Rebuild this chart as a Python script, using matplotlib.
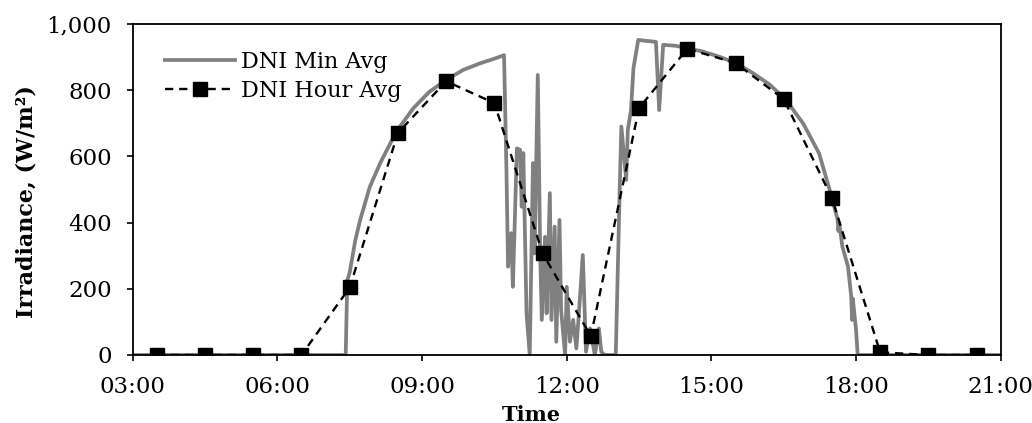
import matplotlib
matplotlib.use("Agg")
import matplotlib.pyplot as plt
from matplotlib.ticker import FuncFormatter

plt.rcParams['font.family'] = ['DejaVu Serif']

# minute averages (clock time, W/m2)
min_times = ["03:00", "07:25", "07:27", "07:30", "07:37", "07:43", "07:55", "08:08",
             "08:28", "08:49", "09:09", "09:30", "09:51", "10:12", "10:31", "10:39",
             "10:42", "10:45", "10:47", "10:51", "10:53", "10:58", "11:02", "11:04",
             "11:06", "11:10", "11:14", "11:18", "11:20", "11:24", "11:27", "11:29",
             "11:33", "11:35", "11:39", "11:41", "11:45", "11:47", "11:51", "11:53",
             "11:58", "12:00", "12:04", "12:08", "12:12", "12:16", "12:20", "12:24",
             "12:29", "12:35", "12:40", "12:43", "12:47", "13:01", "13:06", "13:08",
             "13:14", "13:16", "13:20", "13:23", "13:29", "13:35", "13:51", "13:55",
             "14:00", "14:16", "14:29", "14:49", "15:10", "15:31", "15:52", "16:13",
             "16:33", "16:54", "17:04", "17:14", "17:27", "17:37", "17:38", "17:39",
             "17:43", "17:50", "17:54", "17:55", "17:56", "18:00", "18:02", "21:00"]
min_vals = [0, 0, 225, 250, 347, 408, 508, 580,
            675, 745, 795, 831, 861, 881, 896, 903,
            906, 559, 267, 368, 206, 624, 620, 448,
            610, 126, 0, 580, 307, 846, 307, 106,
            357, 126, 489, 106, 388, 40, 408, 136,
            0, 206, 40, 106, 20, 156, 302, 10,
            80, 0, 80, 10, 0, 0, 508, 690,
            529, 680, 740, 866, 952, 950, 946, 740,
            937, 934, 927, 917, 901, 881, 851, 816,
            770, 700, 655, 609, 500, 410, 375, 400,
            327, 267, 176, 106, 170, 75, 0, 0]

# hourly averages, plotted at the half hour
hour_times = ["03:30", "04:30", "05:30", "06:30", "07:30", "08:30", "09:30", "10:30", "11:30",
              "12:30", "13:30", "14:30", "15:30", "16:30", "17:30", "18:30", "19:30", "20:30"]
hour_vals = [0, 0, 0, 0, 204, 671, 827, 761, 307, 57, 746, 925, 882, 773, 474, 8, 0, 0]


def to_hours(t):
    h, m = t.split(":")
    return int(h) + int(m) / 60.0


fig = plt.figure(figsize=(10.32, 4.23), dpi=100)
ax = fig.add_axes([0.1286, 0.1608, 0.8411, 0.7825])

ax.plot([to_hours(t) for t in min_times], min_vals, color="#808080", lw=2.7,
        label="DNI Min Avg", zorder=2)
ax.plot([to_hours(t) for t in hour_times], hour_vals, color="black", lw=1.7,
        ls=(0, (3.5, 2.5)), marker="s", ms=10.5, label="DNI Hour Avg", zorder=3)

ax.set_xlim(3, 21)
ax.set_ylim(0, 1000)
ax.set_xticks(range(3, 22, 3))
ax.set_yticks(range(0, 1001, 200))
ax.xaxis.set_major_formatter(FuncFormatter(lambda v, p: "%02d:00" % int(round(v))))
ax.yaxis.set_major_formatter(FuncFormatter(lambda v, p: "{:,}".format(int(v))))
ax.tick_params(direction="out", length=4, width=1.2, labelsize=16.5)
ax.tick_params(axis="x", pad=11)
ax.tick_params(axis="y", pad=11)
for s in ax.spines.values():
    s.set_linewidth(1.3)

ax.set_xlabel("Time", fontsize=15, fontweight="bold")
ax.xaxis.set_label_coords((531 - 132.7) / 868, -0.15)
ax.set_ylabel("Irradiance, (W/m²)", fontsize=16, fontweight="bold")
ax.yaxis.set_label_coords(-0.110, 0.465)

ax.legend(loc="upper left", frameon=False, fontsize=16, handlelength=3.15,
          handletextpad=0.3, labelspacing=0.3, borderaxespad=0, borderpad=0,
          bbox_to_anchor=(0.037, 0.918))

fig.savefig("out.png", dpi=100)
